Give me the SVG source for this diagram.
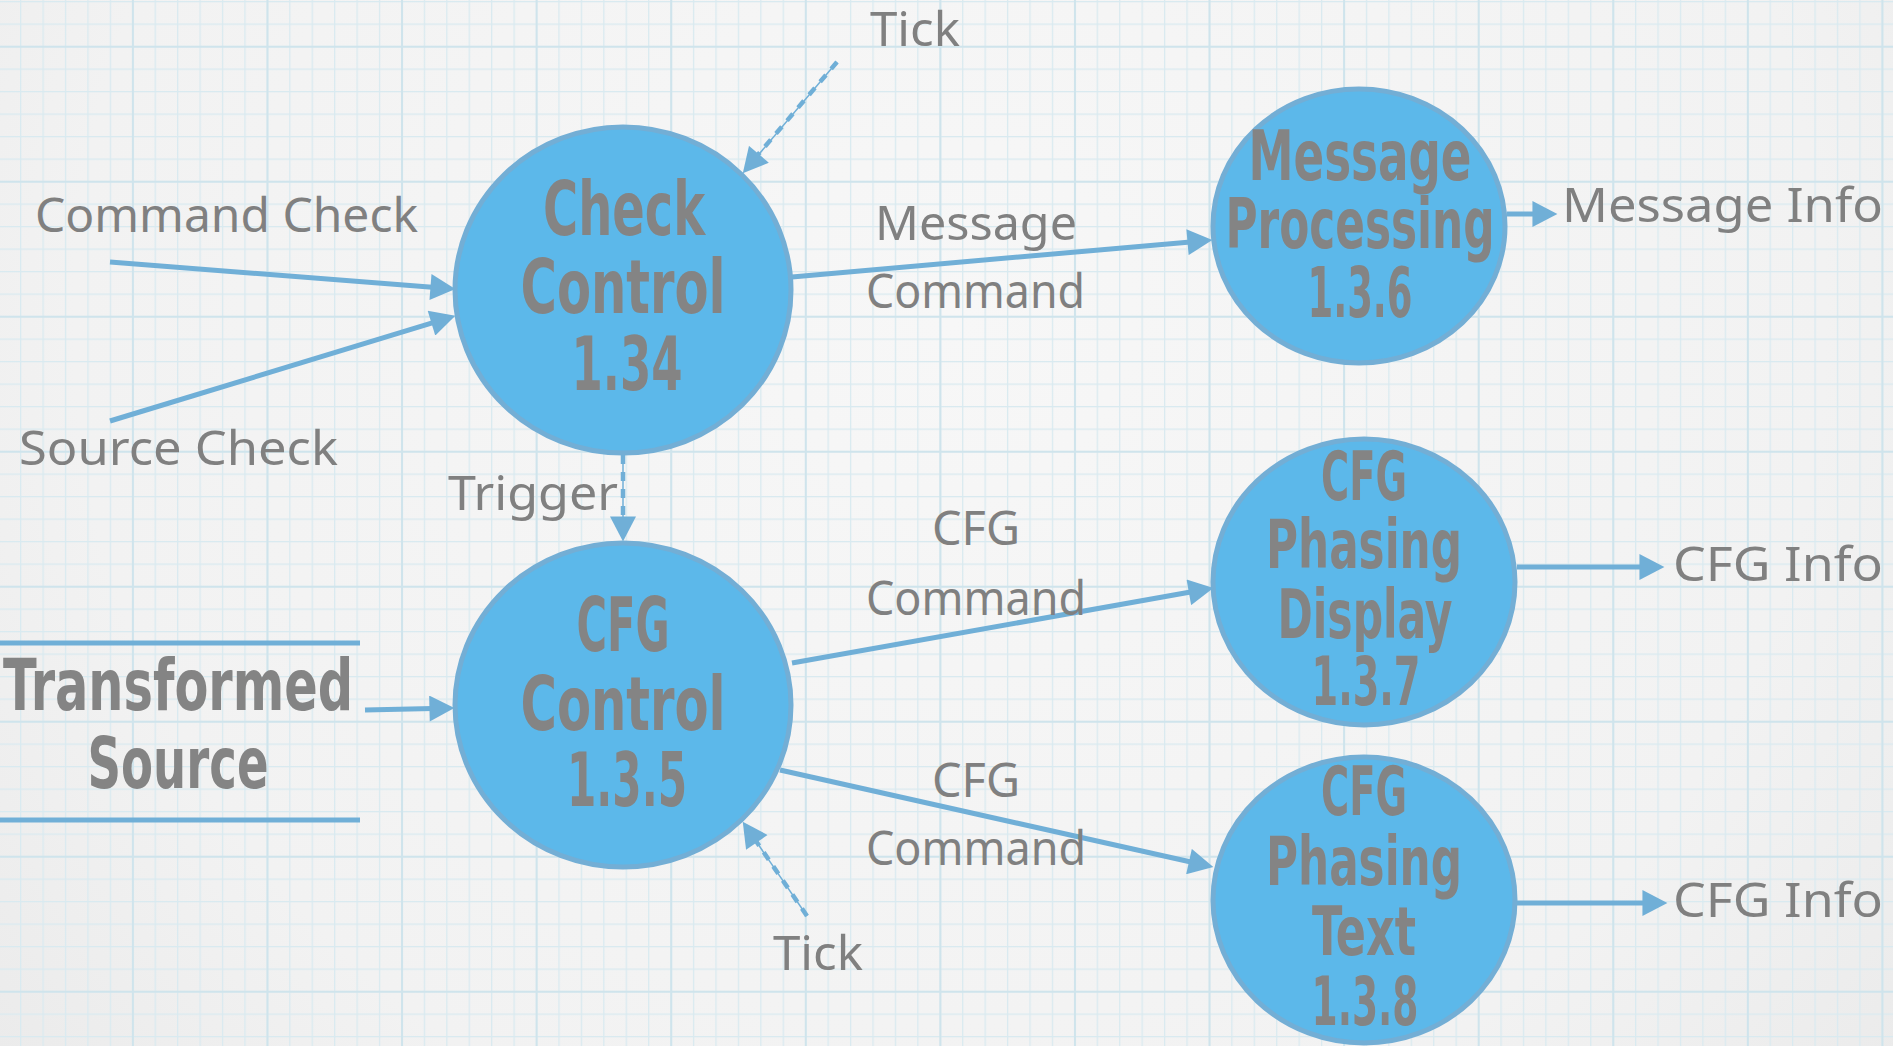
<svg xmlns="http://www.w3.org/2000/svg" width="1893" height="1046" viewBox="0 0 1893 1046">
  <defs>
    <radialGradient id="paper" cx="950" cy="320" r="1250" gradientUnits="userSpaceOnUse">
      <stop offset="0" stop-color="#f7f7f7"/>
      <stop offset="0.7" stop-color="#f2f2f2"/>
      <stop offset="1" stop-color="#eaeaea"/>
    </radialGradient>
    <pattern id="gridMinor" patternUnits="userSpaceOnUse" x="-2.4" y="1" width="22.43" height="22.5">
      <rect x="0" y="0" width="1.3" height="22.5" fill="#d9eaf0"/>
      <rect x="0" y="0" width="22.43" height="1.3" fill="#d9eaf0"/>
    </pattern>
    <pattern id="gridMajor" patternUnits="userSpaceOnUse" x="-2.7" y="45.7" width="134.58" height="135">
      <rect x="0" y="0" width="2" height="135" fill="#cfe4ec"/>
      <rect x="0" y="0" width="134.58" height="2" fill="#cfe4ec"/>
    </pattern>
    <marker id="head" markerUnits="userSpaceOnUse" markerWidth="26" markerHeight="26" viewBox="0 0 24 25" refX="14" refY="12.5" orient="auto">
      <path d="M0,0 L24,12.5 L0,25 Z" fill="#70afd7"/>
    </marker>
    <style>
      .bubble { fill: #5cb8ea; stroke: #73aed5; stroke-width: 5; }
      .flow { fill: none; stroke: #70afd7; stroke-width: 5; }
      .ctrl-thin { fill: none; stroke: #70afd7; stroke-width: 1.5; }
      .ctrl-dash { fill: none; stroke: #70afd7; stroke-width: 4.5; stroke-dasharray: 9 8; }
      .store { stroke: #70afd7; stroke-width: 5; }
      .title { font-family: "DejaVu Sans Condensed", "DejaVu Sans", "Liberation Sans", sans-serif; font-weight: bold; fill: #848484; text-anchor: middle; }
      .label { font-family: "Noto Sans", "DejaVu Sans", sans-serif; font-size: 48px; fill: #808080; }
    </style>
  </defs>

  <!-- graph paper -->
  <rect width="1893" height="1046" fill="url(#paper)"/>
  <rect width="1893" height="1046" fill="url(#gridMinor)"/>
  <rect width="1893" height="1046" fill="url(#gridMajor)"/>

  <!-- processes -->
  <g id="check-control">
    <ellipse class="bubble" cx="623" cy="290" rx="168" ry="163"/>
    <text class="title" font-size="75" x="624" y="235" textLength="162" lengthAdjust="spacingAndGlyphs">Check</text>
    <text class="title" font-size="75" x="623" y="313" textLength="205" lengthAdjust="spacingAndGlyphs">Control</text>
    <text class="title" font-size="75" x="627" y="390" textLength="111" lengthAdjust="spacingAndGlyphs">1.34</text>
  </g>

  <g id="message-processing">
    <ellipse class="bubble" cx="1359" cy="226" rx="146" ry="137"/>
    <text class="title" font-size="70" x="1360" y="180" textLength="223" lengthAdjust="spacingAndGlyphs">Message</text>
    <text class="title" font-size="70" x="1360" y="248" textLength="269" lengthAdjust="spacingAndGlyphs">Processing</text>
    <text class="title" font-size="70" x="1360" y="317" textLength="105" lengthAdjust="spacingAndGlyphs">1.3.6</text>
  </g>

  <g id="cfg-control">
    <ellipse class="bubble" cx="623" cy="705" rx="168" ry="162"/>
    <text class="title" font-size="75" x="623" y="651" textLength="93" lengthAdjust="spacingAndGlyphs">CFG</text>
    <text class="title" font-size="75" x="623" y="730" textLength="205" lengthAdjust="spacingAndGlyphs">Control</text>
    <text class="title" font-size="75" x="627" y="806" textLength="120" lengthAdjust="spacingAndGlyphs">1.3.5</text>
  </g>

  <g id="cfg-phasing-display">
    <ellipse class="bubble" cx="1364" cy="582" rx="151" ry="143"/>
    <text class="title" font-size="68" x="1364" y="500" textLength="86" lengthAdjust="spacingAndGlyphs">CFG</text>
    <text class="title" font-size="68" x="1364" y="568" textLength="196" lengthAdjust="spacingAndGlyphs">Phasing</text>
    <text class="title" font-size="68" x="1365" y="638" textLength="175" lengthAdjust="spacingAndGlyphs">Display</text>
    <text class="title" font-size="68" x="1366" y="705" textLength="109" lengthAdjust="spacingAndGlyphs">1.3.7</text>
  </g>

  <g id="cfg-phasing-text">
    <ellipse class="bubble" cx="1364" cy="900" rx="151" ry="143"/>
    <text class="title" font-size="68" x="1364" y="815" textLength="86" lengthAdjust="spacingAndGlyphs">CFG</text>
    <text class="title" font-size="68" x="1364" y="885" textLength="196" lengthAdjust="spacingAndGlyphs">Phasing</text>
    <text class="title" font-size="68" x="1364" y="955" textLength="104" lengthAdjust="spacingAndGlyphs">Text</text>
    <text class="title" font-size="68" x="1365" y="1025" textLength="107" lengthAdjust="spacingAndGlyphs">1.3.8</text>
  </g>

  <!-- data store -->
  <g id="transformed-source">
    <line class="store" x1="0" y1="643" x2="360" y2="643"/>
    <line class="store" x1="0" y1="820" x2="360" y2="820"/>
    <text class="title" font-size="71" x="178" y="710" textLength="350" lengthAdjust="spacingAndGlyphs">Transformed</text>
    <text class="title" font-size="71" x="178" y="788" textLength="181" lengthAdjust="spacingAndGlyphs">Source</text>
  </g>

  <!-- flows and control signals -->
  <g id="connectors">
    <path class="flow" d="M110,262 L445,288.2" marker-end="url(#head)"/>
    <path class="flow" d="M110,421 L445.4,318.9" marker-end="url(#head)"/>
    <path class="flow" d="M792,277 L1202,240.9" marker-end="url(#head)"/>
    <path class="flow" d="M1507,214 L1547,214" marker-end="url(#head)"/>
    <path class="flow" d="M365,710 L444,708.2" marker-end="url(#head)"/>
    <path class="flow" d="M792,663 L1203.2,589.8" marker-end="url(#head)"/>
    <path class="flow" d="M780,770 L1203.2,864.8" marker-end="url(#head)"/>
    <path class="flow" d="M1517,567 L1654,567" marker-end="url(#head)"/>
    <path class="flow" d="M1517,903 L1657,903" marker-end="url(#head)"/>

    <!-- dashed control signals -->
    <path class="ctrl-dash" d="M623,455 L623,521"/>
    <path class="ctrl-thin" d="M623,455 L623,531" marker-end="url(#head)"/>
    <path class="ctrl-dash" d="M837,62 L756,157"/>
    <path class="ctrl-thin" d="M837,62 L749.5,165.4" marker-end="url(#head)"/>
    <path class="ctrl-dash" d="M807,916 L754,838"/>
    <path class="ctrl-thin" d="M807,916 L748.6,830.3" marker-end="url(#head)"/>
  </g>

  <!-- flow labels -->
  <g id="labels">
    <text class="label" x="870" y="46" textLength="90" lengthAdjust="spacingAndGlyphs">Tick</text>
    <text class="label" x="35" y="232" textLength="383" lengthAdjust="spacingAndGlyphs">Command Check</text>
    <text class="label" x="19" y="465" textLength="319" lengthAdjust="spacingAndGlyphs">Source Check</text>
    <text class="label" x="448" y="510" textLength="170" lengthAdjust="spacingAndGlyphs">Trigger</text>
    <text class="label" x="875" y="240" textLength="202" lengthAdjust="spacingAndGlyphs">Message</text>
    <text class="label" x="866" y="308" textLength="219" lengthAdjust="spacingAndGlyphs">Command</text>
    <text class="label" x="1562" y="222" textLength="321" lengthAdjust="spacingAndGlyphs">Message Info</text>
    <text class="label" x="932" y="545" textLength="88" lengthAdjust="spacingAndGlyphs">CFG</text>
    <text class="label" x="866" y="615" textLength="220" lengthAdjust="spacingAndGlyphs">Command</text>
    <text class="label" x="932" y="797" textLength="88" lengthAdjust="spacingAndGlyphs">CFG</text>
    <text class="label" x="866" y="865" textLength="220" lengthAdjust="spacingAndGlyphs">Command</text>
    <text class="label" x="1673" y="581" textLength="210" lengthAdjust="spacingAndGlyphs">CFG Info</text>
    <text class="label" x="1673" y="917" textLength="210" lengthAdjust="spacingAndGlyphs">CFG Info</text>
    <text class="label" x="773" y="970" textLength="90" lengthAdjust="spacingAndGlyphs">Tick</text>
  </g>
</svg>
